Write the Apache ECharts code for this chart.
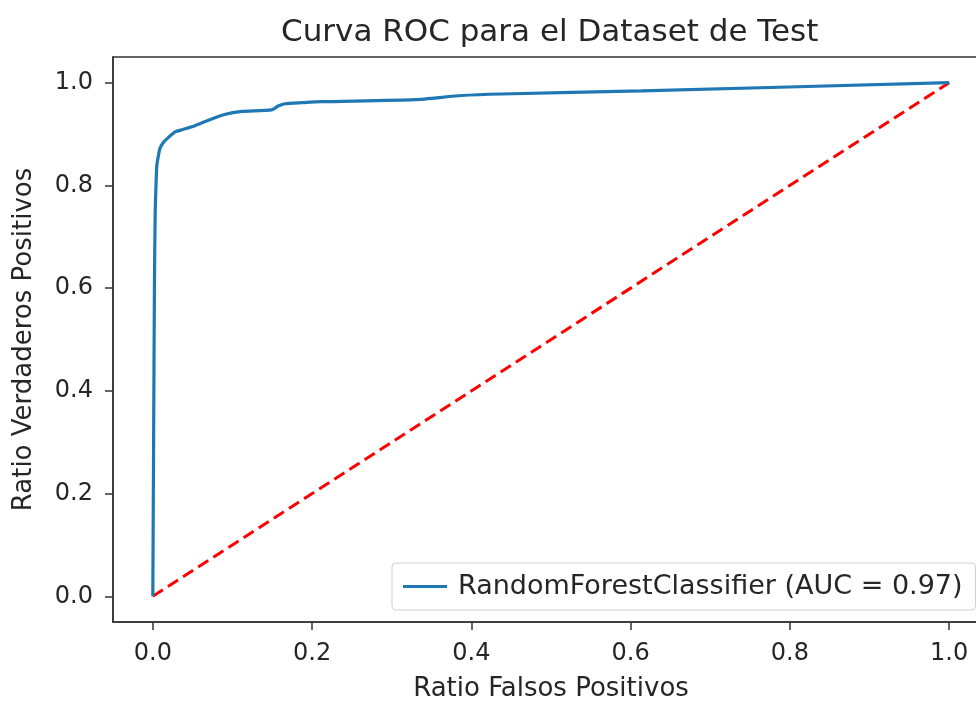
<!DOCTYPE html>
<html>
<head>
<meta charset="utf-8">
<script src="https://cdn.jsdelivr.net/npm/echarts@6/dist/echarts.min.js"></script>
<style>
  html, body { margin: 0; padding: 0; background: #fff; }
  #chart { width: 976px; height: 702px; }
</style>
</head>
<body>
<div id="chart"></div>
<script>
// datos de la curva ROC
var fpr = [0, 0.001, 0.002, 0.003, 0.004, 0.005, 0.007, 0.009, 0.013, 0.018, 0.028, 0.038, 0.049, 0.065, 0.09, 0.112, 0.149, 0.158, 0.166, 0.187, 0.212, 0.329, 0.388, 0.438, 0.614, 1.0];
var tpr = [0, 0.3, 0.6, 0.75, 0.8, 0.838, 0.858, 0.872, 0.883, 0.891, 0.904, 0.909, 0.914, 0.924, 0.938, 0.944, 0.947, 0.955, 0.959, 0.961, 0.963, 0.967, 0.975, 0.978, 0.984, 1.0];
// linea diagonal de referencia
var diagX = [0, 1];
var diagY = [0, 1];
var ticks = [0, 0.2, 0.4, 0.6, 0.8, 1.0];
var serieNombre = 'RandomForestClassifier (AUC = 0.97)';

var chart = echarts.init(document.getElementById('chart'));
var fuente = 'DejaVu Sans';
var texto = '#262626';

function pares(xs, ys) {
  return xs.map(function (x, i) { return [x, ys[i]]; });
}

var option = {
  animation: false,
  backgroundColor: '#fff',
  title: {
    text: 'Curva ROC para el Dataset de Test',
    left: 276,
    top: 12,
    textStyle: { fontFamily: fuente, fontSize: 31, fontWeight: 'normal', color: texto }
  },
  legend: {
    data: [serieNombre],
    left: 392,
    top: 563,
    orient: 'vertical',
    padding: [10, 13, 10, 11],
    icon: 'rect',
    itemWidth: 44,
    itemHeight: 3,
    itemGap: 0,
    backgroundColor: '#fff',
    borderColor: '#d0d0d0',
    borderWidth: 1,
    borderRadius: 4,
    textStyle: { fontFamily: fuente, fontSize: 27, color: texto, padding: [0, 0, 0, 6] }
  },
  grid: {
    left: 113,
    top: 57,
    width: 876,
    height: 565,
    show: true,
    borderColor: '#333',
    borderWidth: 1.5,
    containLabel: false,
    outerBoundsMode: 'none'
  },
  xAxis: {
    type: 'value',
    min: -0.05,
    max: 1.05,
    name: 'Ratio Falsos Positivos',
    nameLocation: 'middle',
    nameGap: 54,
    nameTextStyle: { fontFamily: fuente, fontSize: 26, color: texto },
    axisLine: { show: true, onZero: false, lineStyle: { color: '#333', width: 1.5 } },
    axisTick: { show: true, length: 8, customValues: ticks, lineStyle: { color: '#333', width: 1.5 } },
    axisLabel: {
      customValues: ticks,
      margin: 20,
      fontFamily: fuente, fontSize: 24, color: texto,
      formatter: function (v) { return v.toFixed(1); }
    },
    splitLine: { show: false }
  },
  yAxis: {
    type: 'value',
    min: -0.05,
    max: 1.05,
    name: 'Ratio Verdaderos Positivos',
    nameLocation: 'middle',
    nameGap: 76,
    nameTextStyle: { fontFamily: fuente, fontSize: 26, color: texto },
    axisLine: { show: true, onZero: false, lineStyle: { color: '#333', width: 1.5 } },
    axisTick: { show: true, length: 8, customValues: ticks, lineStyle: { color: '#333', width: 1.5 } },
    axisLabel: {
      customValues: ticks,
      margin: 20,
      fontFamily: fuente, fontSize: 24, color: texto,
      formatter: function (v) { return v.toFixed(1); }
    },
    splitLine: { show: false }
  },
  series: [
    {
      name: serieNombre,
      type: 'line',
      data: pares(fpr, tpr),
      symbol: 'none',
      smooth: 0.2,
      lineStyle: { color: '#1f77b4', width: 3.2 },
      itemStyle: { color: '#1f77b4' },
      z: 3
    },
    {
      name: 'diagonal',
      type: 'line',
      data: pares(diagX, diagY),
      symbol: 'none',
      lineStyle: { color: '#ff0000', width: 3, type: [12, 6] },
      z: 2
    }
  ]
};

chart.setOption(option);
</script>
</body>
</html>
